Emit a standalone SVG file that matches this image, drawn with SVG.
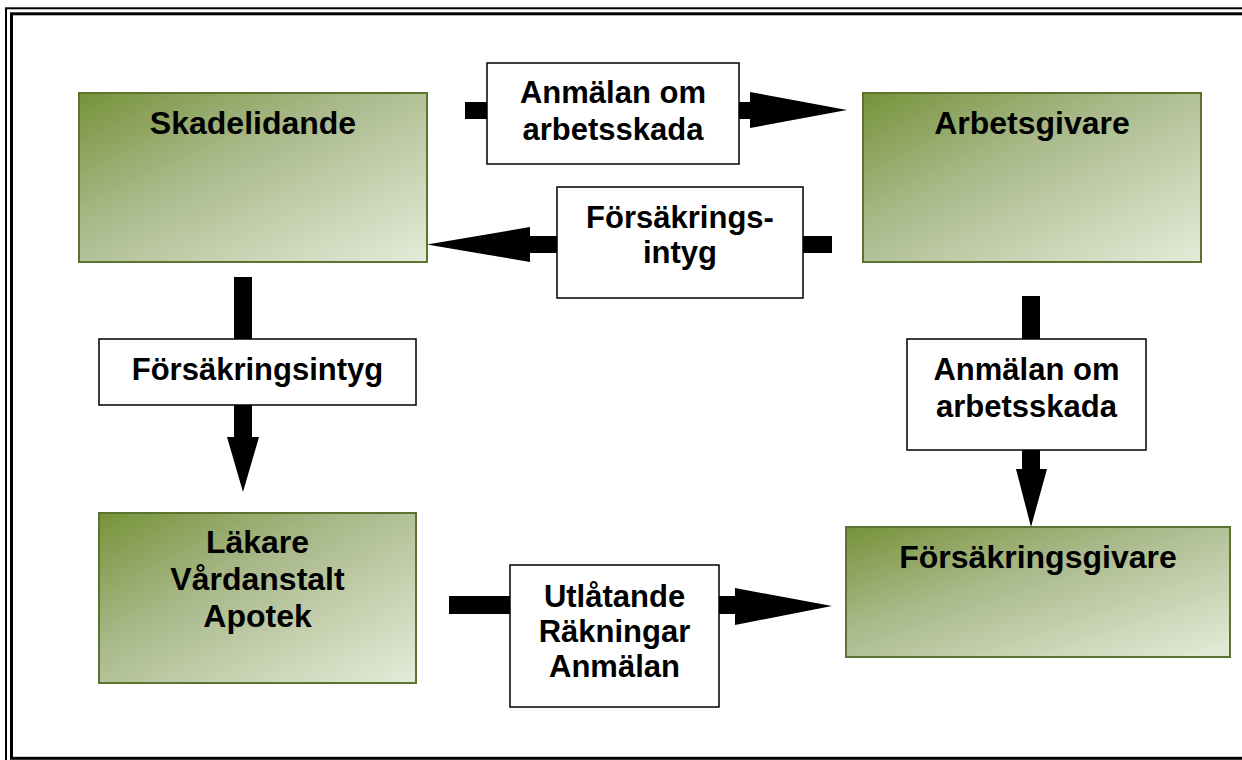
<svg xmlns="http://www.w3.org/2000/svg" width="1242" height="760" viewBox="0 0 1242 760">
<style>
.node{fill:url(#g);stroke:#5B7530;stroke-width:2}
.lbl{fill:#fff;stroke:#000;stroke-width:1.5}
.nt{font-family:"Liberation Sans",Arial,sans-serif;font-weight:bold;font-size:32px;fill:#000;text-anchor:middle}
.lt{font-family:"Liberation Sans",Arial,sans-serif;font-weight:bold;font-size:31px;fill:#000;text-anchor:middle}
.arr{fill:#000}
</style>
<defs>
<linearGradient id="g" x1="0" y1="0" x2="1" y2="1">
<stop offset="0" stop-color="#76933A"/>
<stop offset="0.4" stop-color="#A9B98A"/>
<stop offset="1" stop-color="#E5EBD9"/>
</linearGradient>
</defs>
<rect width="1242" height="760" fill="#fff"/>
<g id="border" fill="none" stroke="#000">
<rect x="6" y="8.3" width="1260" height="770" stroke-width="2"/>
<rect x="11.5" y="13.8" width="1250" height="744.5" stroke-width="3"/>
</g>
<g id="connectors">
<g id="c1">
<rect class="arr" x="465" y="102" width="286" height="17"/>
<polygon class="arr" points="750,92 847,110 750,128"/>
<rect class="lbl" x="487" y="63" width="252" height="101"/>
<text class="lt" x="613" y="103">Anmälan om</text>
<text class="lt" x="613" y="140">arbetsskada</text>
</g>
<g id="c2">
<rect class="arr" x="529" y="236" width="303" height="17"/>
<polygon class="arr" points="530,227 427,244.5 530,262"/>
<rect class="lbl" x="557" y="187" width="246" height="111"/>
<text class="lt" x="680" y="228">Försäkrings-</text>
<text class="lt" x="680" y="263">intyg</text>
</g>
<g id="c3">
<rect class="arr" x="234" y="277" width="18" height="161"/>
<polygon class="arr" points="227,437 259,437 243,492"/>
<rect class="lbl" x="99" y="339" width="317" height="66"/>
<text class="lt" x="257.5" y="380">Försäkringsintyg</text>
</g>
<g id="c4">
<rect class="arr" x="1022" y="296" width="18" height="174"/>
<polygon class="arr" points="1016,469 1047,469 1031,527"/>
<rect class="lbl" x="907" y="339" width="239" height="111"/>
<text class="lt" x="1026.5" y="380">Anmälan om</text>
<text class="lt" x="1026.5" y="417">arbetsskada</text>
</g>
<g id="c5">
<rect class="arr" x="449" y="596" width="287" height="18"/>
<polygon class="arr" points="735,588 832,606 735,625"/>
<rect class="lbl" x="510" y="565" width="209" height="142"/>
<text class="lt" x="614.5" y="607">Utlåtande</text>
<text class="lt" x="614.5" y="642">Räkningar</text>
<text class="lt" x="614.5" y="677">Anmälan</text>
</g>
</g>
<g id="skadelidande">
<rect class="node" x="79" y="93" width="348" height="169"/>
<text class="nt" x="253" y="134">Skadelidande</text>
</g>
<g id="arbetsgivare">
<rect class="node" x="863" y="93" width="338" height="169"/>
<text class="nt" x="1032" y="134">Arbetsgivare</text>
</g>
<g id="lakare">
<rect class="node" x="99" y="513" width="317" height="170"/>
<text class="nt" x="257.5" y="553">Läkare</text>
<text class="nt" x="257.5" y="590">Vårdanstalt</text>
<text class="nt" x="257.5" y="627">Apotek</text>
</g>
<g id="forsakringsgivare">
<rect class="node" x="846" y="527" width="384" height="130"/>
<text class="nt" x="1038" y="568">Försäkringsgivare</text>
</g>
</svg>
